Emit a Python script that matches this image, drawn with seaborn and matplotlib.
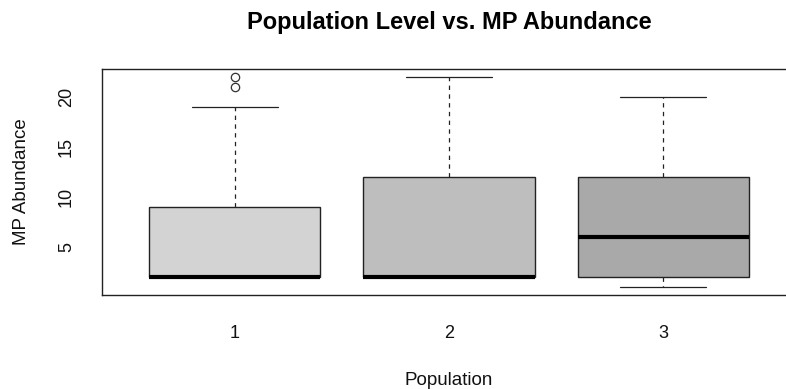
import matplotlib
matplotlib.use("Agg")
import matplotlib.pyplot as plt
import seaborn as sns
import pandas as pd

# Data (estimated from the reference chart)
pop1 = [2, 2, 2, 2, 2, 2, 2, 2, 3, 5, 9, 9, 19, 21, 22]
pop2 = [2, 2, 2, 2, 2, 2, 2, 2, 4, 8, 12, 12, 16, 20, 22]
pop3 = [1, 2, 2, 2, 2, 4, 5, 6, 8, 10, 12, 12, 15, 18, 20]
categories = ["1", "2", "3"]
colors = ["#D3D3D3", "#BEBEBE", "#A9A9A9"]
y_ticks = [5, 10, 15, 20]

df = pd.DataFrame({
    "Population": [categories[0]] * len(pop1) + [categories[1]] * len(pop2) + [categories[2]] * len(pop3),
    "MP Abundance": pop1 + pop2 + pop3,
})

sns.set_style("white")
plt.rcParams["font.family"] = ["Liberation Sans", "DejaVu Sans"]

fig = plt.figure(figsize=(7.86, 3.89), dpi=100)
ax = fig.add_axes([102 / 786, 1 - 295 / 389, 694 / 786, 226 / 389])

sns.boxplot(
    data=df, x="Population", y="MP Abundance", hue="Population",
    palette=colors, saturation=1, width=0.8, whis=1.5, legend=False,
    order=categories, hue_order=categories, ax=ax,
    boxprops=dict(edgecolor="#222222", linewidth=1.0),
    medianprops=dict(color="black", linewidth=3.0, solid_capstyle="butt"),
    whiskerprops=dict(color="#222222", linewidth=0.9, linestyle=(0, (3.5, 3.5))),
    capprops=dict(color="#222222", linewidth=0.9),
    flierprops=dict(marker="o", markersize=6, markerfacecolor="none",
                    markeredgecolor="#333333", markeredgewidth=0.9),
)

ax.set_xlim(-0.62, 2.62)
ax.set_ylim(0.16, 22.84)
ax.set_yticks(y_ticks)
ax.set_yticklabels([str(t) for t in y_ticks], rotation=90, va="center")

for s in ax.spines.values():
    s.set_visible(True)
    s.set_color("#222222")
    s.set_linewidth(1.0)

ax.tick_params(axis="both", direction="out", length=7.5, width=0.9,
               color="#222222", labelsize=13, labelcolor="#111111")
ax.tick_params(axis="x", pad=14)
ax.tick_params(axis="y", pad=12)
ax.grid(False)

ax.set_xlabel("Population", fontsize=13.5, color="#111111", labelpad=22)
ax.set_ylabel("MP Abundance", fontsize=13.5, color="#111111", labelpad=20)
fig.text(449 / 786, 1 - 22 / 389, "Population Level vs. MP Abundance",
         ha="center", va="center", fontsize=17, fontweight="bold", color="black")

fig.savefig("out.png", dpi=100)
